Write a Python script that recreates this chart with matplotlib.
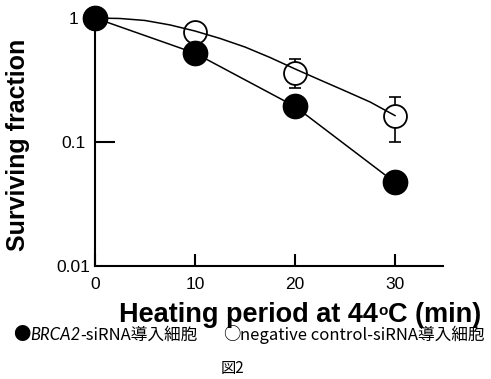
import numpy as np
import matplotlib
matplotlib.use('Agg')
import matplotlib.pyplot as plt

# Data
time_min = [0, 10, 20, 30]
brca2_sf = [1.0, 0.52, 0.193, 0.047]
control_sf = [1.0, 0.77, 0.36, 0.163]
control_err_low = [0, 0, 0.089, 0.064]
control_err_high = [0, 0, 0.104, 0.069]

# Fitted curve for the control cells
fit_time = [0, 2.5, 5, 7.5, 10, 12.5, 15, 17.5, 20, 22.5, 25, 27.5, 30]
fit_control = [1.0, 0.991, 0.955, 0.879, 0.785, 0.684, 0.583, 0.480,
               0.388, 0.316, 0.258, 0.210, 0.163]

x_ticks = [0, 10, 20, 30]
y_ticks = [0.01, 0.1, 1]
y_tick_labels = ['0.01', '0.1', '1']

plt.rcParams['font.family'] = ['Liberation Sans', 'DejaVu Sans']

W, H = 491, 379
fig = plt.figure(figsize=(W / 100, H / 100), dpi=100)
ax = fig.add_axes([95 / W, 113.3 / H, 348 / W, 247.7 / H])

ax.set_yscale('log')
ax.set_xlim(0, 34.8)
ax.set_ylim(0.01, 1)

# open symbols first so the fitted curve runs over them
err_mask = np.array(control_err_high) > 0
ax.errorbar(np.array(time_min)[err_mask], np.array(control_sf)[err_mask],
            yerr=[np.array(control_err_low)[err_mask], np.array(control_err_high)[err_mask]],
            fmt='none', ecolor='black', elinewidth=1.2, capsize=4.5, capthick=1.2,
            zorder=2, clip_on=False)
ax.plot(time_min, control_sf, linestyle='none', marker='o', markersize=16.5,
        markerfacecolor='white', markeredgecolor='black', markeredgewidth=1.3,
        zorder=3, clip_on=False)
ax.plot(fit_time, fit_control, color='black', linewidth=1.1, zorder=4, clip_on=False)

ax.plot(time_min, brca2_sf, color='black', linewidth=1.1, marker='o', markersize=17.5,
        markerfacecolor='black', markeredgecolor='black', zorder=5, clip_on=False)

for side in ['top', 'right']:
    ax.spines[side].set_visible(False)
for side in ['left', 'bottom']:
    ax.spines[side].set_linewidth(1.5)

ax.minorticks_off()
ax.set_xticks(x_ticks)
ax.set_yticks(y_ticks)
ax.set_yticklabels(y_tick_labels)
ax.tick_params(axis='x', direction='in', length=8.5, width=1.5, pad=8, labelsize=12.5)
ax.tick_params(axis='y', direction='in', length=14.5, width=1.5, pad=15.5, labelsize=12.5)
for lab in ax.get_yticklabels():
    lab.set_horizontalalignment('center')
# only the 0.1 tick is visible in the original
for i, t in enumerate(ax.yaxis.get_major_ticks()):
    if y_ticks[i] != 0.1:
        t.tick1line.set_markersize(0)

ax.set_ylabel('Surviving fraction', fontsize=18, fontweight='bold')
ax.yaxis.set_label_coords(-0.187, 0.487)

renderer = fig.canvas.get_renderer()

# x axis title with a small raised degree "o"
xlabel_parts = [
    ('Heating period at 44', 19.5, 321.5),
    ('o', 11, 315),
    ('C (min)', 19.5, 321.5),
]
texts = []
for s, size, base_y in xlabel_parts:
    t = fig.text(0, 1 - base_y / H, s, fontsize=size, fontweight='bold',
                 ha='left', va='baseline')
    texts.append(t)
widths = [t.get_window_extent(renderer).width for t in texts]
x_px = 300 - sum(widths) / 2
for t, w in zip(texts, widths):
    t.set_x(x_px / W)
    x_px += w

# caption line under the chart: two groups, each built piece by piece
cjk = ['Noto Sans CJK JP', 'DejaVu Sans']
caption_groups = [
    (13, [('\u25cf', dict(family=cjk, fontsize=12.5)),
          ('BRCA2', dict(family=['Lato'], style='italic', fontsize=12)),
          ('-siRNA導入細胞', dict(family=cjk, fontsize=12))]),
    (223, [('\u25cb', dict(family=cjk, fontsize=12.5)),
           ('negative control-siRNA導入細胞', dict(family=cjk, fontsize=12))]),
]
for start_px, pieces in caption_groups:
    x_px = start_px
    for s, kw in pieces:
        t = fig.text(x_px / W, 1 - 335 / H, s, ha='left', va='center', **kw)
        x_px += t.get_window_extent(renderer).width

fig.text(232 / W, 1 - 368 / H, '図2', family=cjk, fontsize=11, ha='center', va='center')

fig.savefig('out.png', dpi=100)
